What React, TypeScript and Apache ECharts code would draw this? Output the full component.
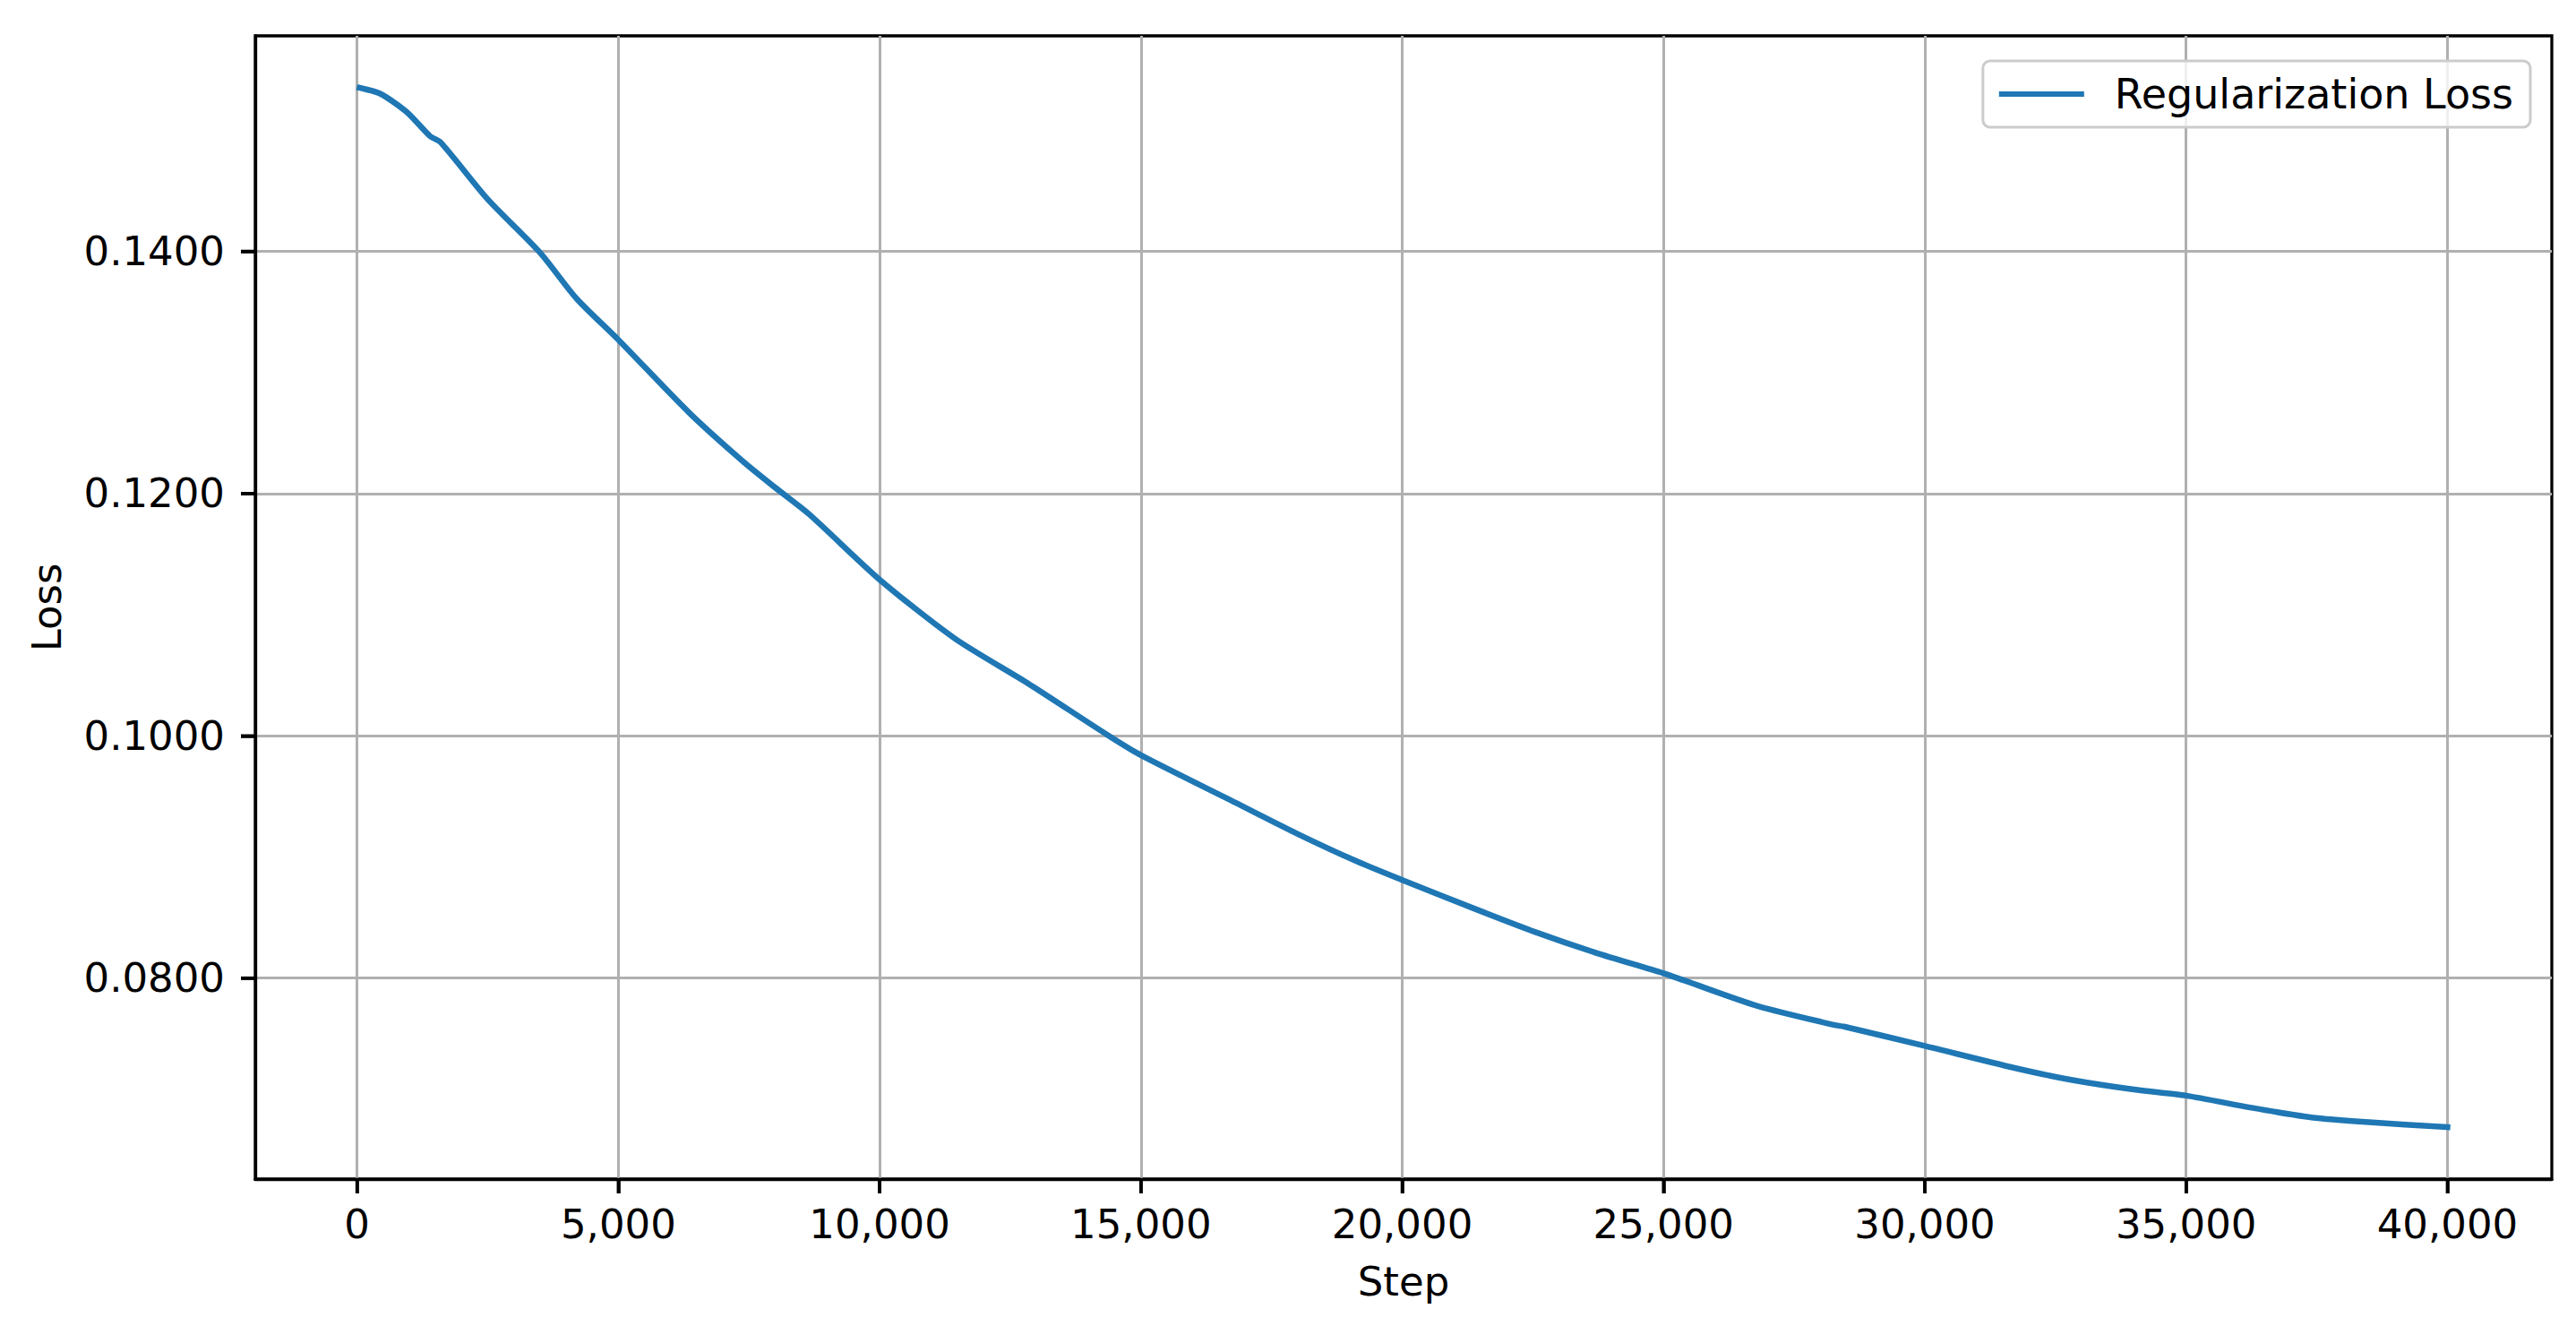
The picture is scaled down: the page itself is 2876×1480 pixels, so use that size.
import React, { useEffect, useRef } from "react";
import * as echarts from "echarts";

const steps = [
  50, 450, 950, 1400, 1600, 2500, 3500, 4200, 5000, 6350, 7400, 8000, 8650,
  10000, 11450, 12850, 14350, 15000, 16800, 18000, 19100, 20000, 21400, 22550,
  23700, 25000, 25400, 26800, 28300, 28450, 30000, 31700, 32800, 34000, 35000,
  36250, 37400, 38500, 40000,
];
const losses = [
  0.1535, 0.153, 0.1515, 0.1495, 0.149, 0.1443, 0.1399, 0.1361, 0.1327, 0.1267,
  0.1226, 0.1205, 0.1183, 0.1129, 0.108, 0.1043, 0.1001, 0.0984, 0.0945, 0.0919,
  0.0897, 0.0881, 0.0857, 0.0838, 0.0821, 0.0804, 0.0798, 0.0777, 0.0761,
  0.076, 0.0744, 0.0726, 0.0716, 0.0708, 0.0703, 0.0693, 0.0685, 0.0681,
  0.0677,
];
const xTicks = [0, 5000, 10000, 15000, 20000, 25000, 30000, 35000, 40000];
const yTicks = [0.08, 0.1, 0.12, 0.14];
const seriesName = "Regularization Loss";
const xName = "Step";
const yName = "Loss";

const FONT = "DejaVu Sans";

export default function App() {
  const ref = useRef<HTMLDivElement>(null);
  useEffect(() => {
    document.body.style.margin = "0";
    const chart = echarts.init(ref.current!, null, { renderer: "svg" });
    const xMin = steps[0] - 0.05 * (steps[steps.length - 1] - steps[0]);
    const xMax = steps[steps.length - 1] + 0.05 * (steps[steps.length - 1] - steps[0]);
    const lo = Math.min(...losses);
    const hi = Math.max(...losses);
    const yMin = lo - 0.05 * (hi - lo);
    const yMax = hi + 0.05 * (hi - lo);
    const TICK = 16;
    const TW = 3.6;
    const axisLine = {
      show: true,
      onZero: false,
      lineStyle: { color: "#000000", width: 3.3 },
    };
    chart.setOption({
      animation: false,
      backgroundColor: "#ffffff",
      grid: {
        left: 285,
        right: 27,
        top: 40,
        bottom: 164,
        show: true,
        borderColor: "#000000",
        borderWidth: 3.3,
        backgroundColor: "transparent",
      },
      legend: {
        right: 51,
        top: 68,
        padding: [14, 19, 14, 18],
        itemWidth: 95,
        itemHeight: 6,
        icon: "rect",
        backgroundColor: "rgba(255,255,255,0.8)",
        borderColor: "#cccccc",
        borderWidth: 3,
        borderRadius: 8,
        textStyle: {
          fontSize: 46,
          fontFamily: FONT,
          color: "#000000",
          padding: [0, 0, 0, 29],
        },
        data: [seriesName],
      },
      xAxis: {
        type: "value",
        min: xMin,
        max: xMax,
        name: xName,
        nameLocation: "middle",
        nameGap: 92,
        nameTextStyle: { fontSize: 45, fontFamily: FONT, color: "#000000" },
        axisLine,
        axisTick: {
          show: true,
          length: TICK,
          customValues: xTicks,
          lineStyle: { color: "#000000", width: TW },
        },
        axisLabel: {
          customValues: xTicks,
          margin: 28,
          fontSize: 45,
          fontFamily: FONT,
          color: "#000000",
          formatter: (v: number) => v.toLocaleString("en-US"),
        },
        splitLine: { show: true, lineStyle: { color: "#b0b0b0", width: 3 } },
      },
      yAxis: {
        type: "value",
        min: yMin,
        max: yMax,
        name: yName,
        nameLocation: "middle",
        nameGap: 210,
        nameRotate: 90,
        nameTextStyle: { fontSize: 45, fontFamily: FONT, color: "#000000" },
        axisLine,
        axisTick: {
          show: true,
          length: TICK,
          customValues: yTicks,
          lineStyle: { color: "#000000", width: TW },
        },
        axisLabel: {
          customValues: yTicks,
          margin: 34,
          fontSize: 45,
          fontFamily: FONT,
          color: "#000000",
          formatter: (v: number) => v.toFixed(4),
        },
        splitLine: { show: true, lineStyle: { color: "#b0b0b0", width: 3 } },
      },
      series: [
        {
          name: seriesName,
          type: "line",
          data: steps.map((s, i) => [s, losses[i]]),
          showSymbol: false,
          symbol: "none",
          smooth: 0.25,
          color: "#1f77b4",
          lineStyle: { color: "#1f77b4", width: 6.5, cap: "square", join: "round" },
          z: 5,
        },
      ],
    });
    // tick marks as small filled rects, placed through the chart's own scales
    const tickEls: any[] = [];
    xTicks.forEach((v) => {
      const p = chart.convertToPixel({ gridIndex: 0 }, [v, yMin]) as number[];
      tickEls.push({
        type: "rect",
        z: 100,
        shape: { x: p[0] - TW / 2, y: p[1], width: TW, height: TICK },
        style: { fill: "#000000" },
      });
    });
    yTicks.forEach((v) => {
      const p = chart.convertToPixel({ gridIndex: 0 }, [xMin, v]) as number[];
      tickEls.push({
        type: "rect",
        z: 100,
        shape: { x: p[0] - TICK, y: p[1] - TW / 2, width: TICK, height: TW },
        style: { fill: "#000000" },
      });
    });
    chart.setOption({ graphic: { elements: tickEls } });
    return () => chart.dispose();
  }, []);
  return <div ref={ref} style={{ width: 2876, height: 1480 }} />;
}
